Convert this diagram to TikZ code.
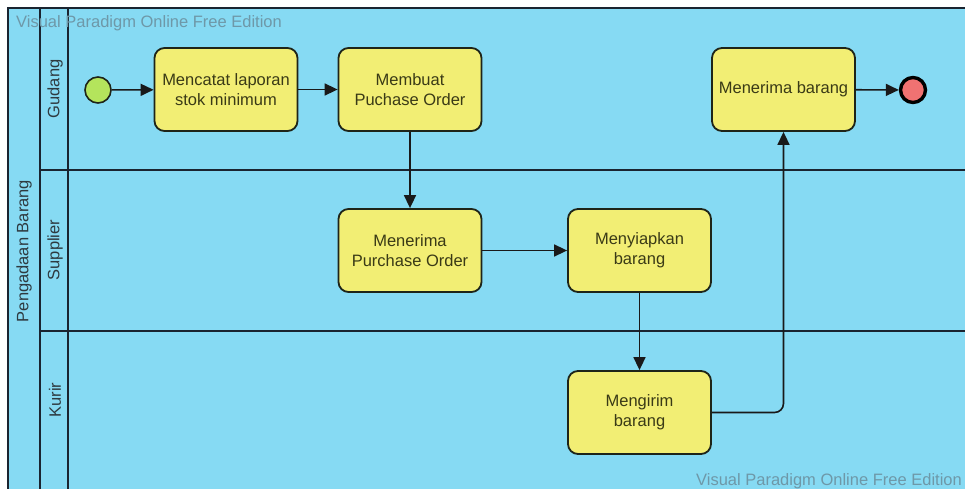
\documentclass[tikz,border=0pt]{standalone}
\usepackage{fontspec}
\setmainfont{Liberation Sans}
\usetikzlibrary{arrows.meta}
\definecolor{poolbg}{HTML}{86DAF3}
\definecolor{taskfill}{HTML}{F2EE74}
\definecolor{taskline}{HTML}{1E2418}
\definecolor{tasktext}{HTML}{3A3A16}
\definecolor{lanetext}{HTML}{2E3A40}
\definecolor{wm}{HTML}{6E98A8}
\definecolor{startfill}{HTML}{B4E45C}
\definecolor{endfill}{HTML}{F07272}
\definecolor{laneline}{HTML}{1A2430}
\tikzset{
  task/.style={draw=taskline, fill=taskfill, line width=1.8pt, rounded corners=10pt,
    minimum width=143pt, minimum height=83pt, inner sep=0pt, align=center,
    text=tasktext, font=\fontsize{16.5}{20}\selectfont},
  flow/.style={draw=black!90, line width=1.6pt, -{Triangle[length=13pt,width=12pt]}},
  lanelabel/.style={rotate=90, text=lanetext, font=\fontsize{16.5}{20}\selectfont, inner sep=0pt},
  wmark/.style={text=wm, font=\fontsize{16.5}{20}\selectfont, inner sep=0pt},
  laneborder/.style={draw=laneline, line width=1.4pt}
}
\begin{document}
\begin{tikzpicture}[x=1pt,y=-1pt]
\useasboundingbox (0,0) rectangle (965,489);
\begin{scope}
\clip (0,0) rectangle (965,489);
\fill[poolbg] (8,8) rectangle (975,499);
\draw[laneborder] (8,499) -- (8,8) -- (975,8);
\draw[laneborder] (40,8) -- (40,499);
\draw[laneborder] (68,8) -- (68,499);
\draw[laneborder] (40,170) -- (975,170);
\draw[laneborder] (40,331) -- (975,331);
\end{scope}
% labels
\node[lanelabel] (pool) at (24,251) {Pengadaan Barang};
\node[lanelabel] (lgudang) at (55,89) {Gudang};
\node[lanelabel] (lsupplier) at (55,250) {Supplier};
\node[lanelabel] (lkurir) at (55,400) {Kurir};
\node[wmark, anchor=west] (wm1) at (16,23) {Visual Paradigm Online Free Edition};
\node[wmark, anchor=east] (wm2) at (962,481) {Visual Paradigm Online Free Edition};
% events
\node[circle, draw=taskline, fill=startfill, line width=1.6pt, minimum size=26pt, inner sep=0pt] (start) at (98,90) {};
\node[circle, draw=black, fill=endfill, line width=3.4pt, minimum size=25pt, inner sep=0pt] (end) at (913,90) {};
% tasks
\node[task] (catat) at (226,89.5) {Mencatat laporan\\stok minimum};
\node[task] (buat) at (410,89.5) {Membuat\\Puchase Order};
\node[task] (terima) at (783.5,89.5) {Menerima barang};
\node[task] (terimapo) at (410,250.5) {Menerima\\Purchase Order};
\node[task] (siap) at (639.5,250.5) {Menyiapkan\\barang};
\node[task] (kirim) at (639.5,412.5) {Mengirim\\barang};
% flows
\draw[flow] (start) -- (catat);
\draw[flow] (catat) -- (buat);
\draw[flow] (buat) -- (terimapo);
\draw[flow] (terimapo) -- (siap);
\draw[flow] (siap) -- (kirim);
\draw[flow, rounded corners=9pt] (kirim.east) -| (terima.south);
\draw[flow] (terima) -- (end);
\end{tikzpicture}
\end{document}
